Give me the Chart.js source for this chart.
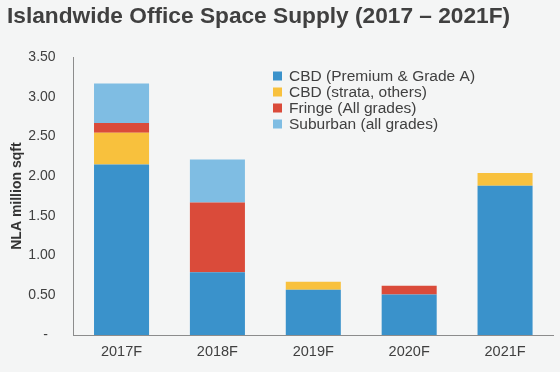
<!DOCTYPE html>
<html>
<head>
<meta charset="utf-8">
<script src="https://cdn.jsdelivr.net/npm/chart.js@4/dist/chart.umd.min.js"></script>
<style>
html,body{margin:0;padding:0;background:#f4f5f5;}
#wrap{width:560px;height:372px;position:relative;}
</style>
</head>
<body>
<div id="wrap"><canvas id="c" width="560" height="372"></canvas></div>
<script>
const categories = ["2017F", "2018F", "2019F", "2020F", "2021F"];
const cbdPremium = [2.15, 0.79, 0.57, 0.51, 1.88];
const cbdStrata = [0.40, 0, 0.10, 0, 0.16];
const fringe = [0.12, 0.88, 0, 0.11, 0];
const suburban = [0.50, 0.54, 0, 0, 0];
const seriesNames = ["CBD (Premium & Grade A)", "CBD (strata, others)", "Fringe (All grades)", "Suburban (all grades)"];
const yTickLabels = {0: "-  ", 0.5: "0.50", 1: "1.00", 1.5: "1.50", 2: "2.00", 2.5: "2.50", 3: "3.00", 3.5: "3.50"};

const colors = ["#3a92cb", "#f8c13d", "#da4b3a", "#7fbde3"];
const FONT = "'Liberation Sans', Arial, sans-serif";

const bgPlugin = {
  id: 'bg',
  beforeDraw(chart) {
    const ctx = chart.ctx;
    ctx.save();
    ctx.fillStyle = '#f4f5f5';
    ctx.fillRect(0, 0, chart.width, chart.height);
    ctx.restore();
  }
};

const legendPlugin = {
  id: 'customLegend',
  afterDraw(chart) {
    const ctx = chart.ctx;
    ctx.save();
    ctx.font = "15.5px " + FONT;
    ctx.textBaseline = 'middle';
    ctx.textAlign = 'left';
    chart.data.datasets.forEach((ds, i) => {
      const y = 76 + i * 16;
      ctx.fillStyle = ds.backgroundColor;
      ctx.fillRect(273, y - 4.5, 9, 9);
      ctx.fillStyle = '#404040';
      ctx.fillText(ds.label, 289, y + 0.5);
    });
    ctx.restore();
  }
};

new Chart(document.getElementById('c'), {
  type: 'bar',
  data: {
    labels: categories,
    datasets: [
      {label: seriesNames[0], data: cbdPremium, backgroundColor: colors[0]},
      {label: seriesNames[1], data: cbdStrata, backgroundColor: colors[1]},
      {label: seriesNames[2], data: fringe, backgroundColor: colors[2]},
      {label: seriesNames[3], data: suburban, backgroundColor: colors[3]}
    ]
  },
  options: {
    responsive: false,
    animation: false,
    devicePixelRatio: 1,
    layout: {padding: {left: 7, right: 7, top: 3, bottom: 0}},
    datasets: {bar: {categoryPercentage: 1, barPercentage: 0.574, borderWidth: 0}},
    plugins: {
      legend: {display: false},
      tooltip: {enabled: false},
      title: {
        display: true,
        text: "Islandwide Office Space Supply (2017 – 2021F)",
        align: 'start',
        color: '#404040',
        font: {family: FONT, size: 22.7, weight: 'bold'},
        padding: {top: 0, bottom: 27}
      }
    },
    scales: {
      x: {
        stacked: true,
        grid: {display: false, drawTicks: false},
        border: {display: true, color: '#8c8c8c', width: 1},
        ticks: {color: '#404040', font: {family: FONT, size: 14.5}, padding: 8, maxRotation: 0},
        afterFit(scale) { scale.height = 37; }
      },
      y: {
        stacked: true,
        min: 0, max: 3.5,
        grid: {display: false, drawTicks: false},
        border: {display: true, color: '#8c8c8c', width: 1},
        ticks: {
          stepSize: 0.5,
          color: '#404040',
          font: {family: FONT, size: 14},
          padding: 18,
          callback: (v) => yTickLabels[v] !== undefined ? yTickLabels[v] : ""
        },
        title: {
          display: true,
          text: "NLA million sqft",
          color: '#333333',
          font: {family: FONT, size: 14, weight: 'bold'},
          padding: {top: 2, bottom: 0}
        },
        afterFit(scale) { scale.width = 66.6; }
      }
    }
  },
  plugins: [bgPlugin, legendPlugin]
});
</script>
</body>
</html>
